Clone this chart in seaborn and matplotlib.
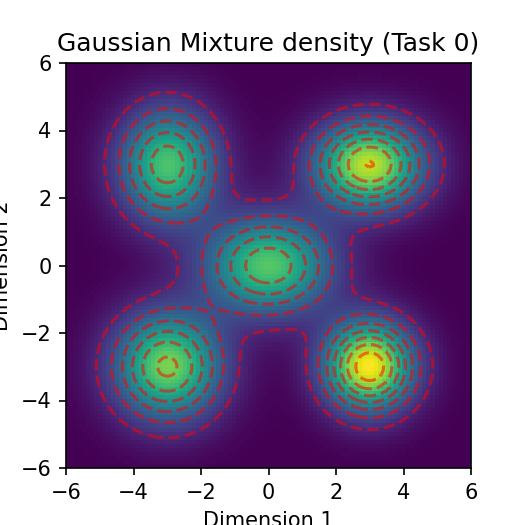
import numpy as np
import matplotlib
matplotlib.use("Agg")
import matplotlib.pyplot as plt
import seaborn as sns

# Mixture components
mean_x = [-3.0, 3.0, 0.0, -3.0, 3.0]
mean_y = [3.0, 3.0, 0.0, -3.0, -3.0]
sigma_x = [1.00, 1.12, 1.30, 1.10, 0.92]
sigma_y = [1.15, 0.90, 1.00, 1.10, 0.92]
weights = [0.202, 0.223, 0.233, 0.236, 0.206]

title = "Gaussian Mixture density (Task 0)"
xlabel = "Dimension 1"
ylabel = "Dimension 2"
ticks = [-6, -4, -2, 0, 2, 4, 6]

grid = np.linspace(-6, 6, 100)
X, Y = np.meshgrid(grid, grid)
Z = np.zeros_like(X)
for mx, my, sx, sy, w in zip(mean_x, mean_y, sigma_x, sigma_y, weights):
    Z += w * np.exp(-0.5 * (((X - mx) / sx) ** 2 + ((Y - my) / sy) ** 2)) / (2 * np.pi * sx * sy)

dpi = 150
fig = plt.figure(figsize=(525 / dpi, 525 / dpi), dpi=dpi)
ax = fig.add_axes([66 / 525, 57 / 525, 405 / 525, 405 / 525])

cmap = sns.color_palette("viridis", as_cmap=True)
ax.imshow(Z, extent=[-6, 6, -6, 6], origin="lower", cmap=cmap)
ax.contour(X, Y, Z, colors="red", linestyles="dashed", alpha=0.5)

ax.set_xticks(ticks)
ax.set_yticks(ticks)
ax.set_xlim(-6, 6)
ax.set_ylim(-6, 6)
ax.set_title(title)
ax.set_xlabel(xlabel)
ax.set_ylabel(ylabel)

fig.savefig("out.png", dpi=dpi)
